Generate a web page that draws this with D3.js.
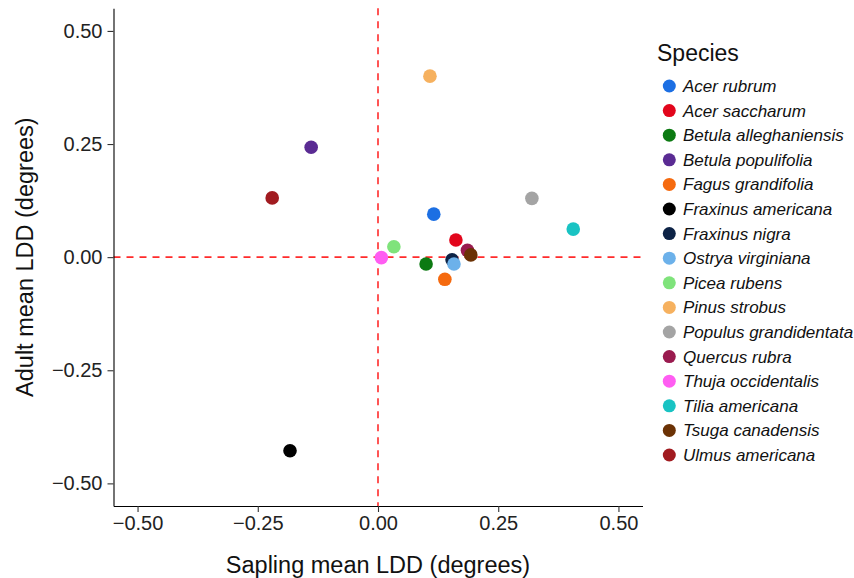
<!DOCTYPE html>
<html>
<head>
<meta charset="utf-8">
<script src="https://cdn.jsdelivr.net/npm/d3@7"></script>
<style>
  body { margin: 0; background: #fff; }
  text { font-family: "Liberation Sans", Arial, sans-serif; }
</style>
</head>
<body>
<div id="chart"></div>
<script>
const species = [
    'Acer rubrum', 'Acer saccharum', 'Betula alleghaniensis', 'Betula populifolia',
    'Fagus grandifolia', 'Fraxinus americana', 'Fraxinus nigra', 'Ostrya virginiana',
    'Picea rubens', 'Pinus strobus', 'Populus grandidentata', 'Quercus rubra',
    'Thuja occidentalis', 'Tilia americana', 'Tsuga canadensis', 'Ulmus americana'
]
const saplingLDD = [0.116, 0.162, 0.100, -0.139, 0.139, -0.183, 0.154, 0.158,
    0.033, 0.108, 0.320, 0.186, 0.007, 0.406, 0.193, -0.220]
const adultLDD = [0.095, 0.038, -0.015, 0.243, -0.049, -0.428, -0.006, -0.015,
    0.023, 0.400, 0.130, 0.015, -0.001, 0.062, 0.005, 0.131]
const speciesColors = ['#1c6fe3', '#e2061c', '#0c7a12', '#5a2b93', '#f56a0f', '#000000',
    '#0d2346', '#6cb1ea', '#7fe37b', '#f6b15f', '#a4a4a4', '#9a1b4f',
    '#ff5df2', '#19c3c3', '#6b3205', '#a11b20']
const ticks = [-0.5, -0.25, 0, 0.25, 0.5]

const width = 854
const height = 578
const plot = { left: 113.5, right: 642.5, top: 8.3, bottom: 506 }

const rows = species.map((s, i) => ({ species: s, x: saplingLDD[i], y: adultLDD[i], color: speciesColors[i] }))

const x = d3.scaleLinear().domain([-0.55, 0.55]).range([plot.left, plot.right])
const y = d3.scaleLinear().domain([-0.55, 0.55]).range([plot.bottom, plot.top])
const colors = d3.scaleOrdinal().domain(species).range(speciesColors)
const fmt = d3.format('.2f')

const svg = d3.select('#chart').append('svg')
    .attr('width', width)
    .attr('height', height)

// reference lines at zero
svg.append('line')
    .attr('x1', x(0)).attr('x2', x(0))
    .attr('y1', plot.top).attr('y2', plot.bottom)
    .attr('stroke', '#ff2b2b').attr('stroke-width', 1.6)
    .attr('stroke-dasharray', '7,6')
svg.append('line')
    .attr('x1', plot.left).attr('x2', plot.right)
    .attr('y1', y(0)).attr('y2', y(0))
    .attr('stroke', '#ff2b2b').attr('stroke-width', 1.6)
    .attr('stroke-dasharray', '7,6')

// axes
const xAxis = d3.axisBottom(x).tickValues(ticks).tickFormat(fmt).tickSize(6).tickSizeOuter(0).tickPadding(4)
const yAxis = d3.axisLeft(y).tickValues(ticks).tickFormat(fmt).tickSize(6).tickSizeOuter(0).tickPadding(5)

const styleAxis = g => {
    g.select('.domain').attr('stroke', '#000').attr('stroke-width', 1.1)
    g.selectAll('.tick line').attr('stroke', '#333').attr('stroke-width', 1.1)
    g.selectAll('.tick text').attr('fill', '#222').style('font-size', '20px')
        .style('font-family', '"Liberation Sans", Arial, sans-serif')
}

svg.append('g')
    .attr('transform', `translate(0, ${plot.bottom})`)
    .call(xAxis)
    .call(styleAxis)

svg.append('g')
    .attr('transform', `translate(${plot.left}, 0)`)
    .call(yAxis)
    .call(styleAxis)

// axis titles
svg.append('text')
    .attr('x', (plot.left + plot.right) / 2)
    .attr('y', 573)
    .attr('text-anchor', 'middle')
    .attr('fill', '#111')
    .style('font-size', '23.5px')
    .text('Sapling mean LDD (degrees)')

svg.append('text')
    .attr('transform', `translate(33, ${(plot.top + plot.bottom) / 2}) rotate(-90)`)
    .attr('text-anchor', 'middle')
    .attr('fill', '#111')
    .style('font-size', '23.5px')
    .text('Adult mean LDD (degrees)')

// points
svg.append('g')
    .selectAll('circle')
    .data(rows)
    .join('circle')
    .attr('cx', d => x(d.x))
    .attr('cy', d => y(d.y))
    .attr('r', 6.8)
    .attr('fill', d => colors(d.species))

// legend
const legendG = svg.append('g').attr('transform', 'translate(657, 0)')
legendG.append('text')
    .attr('x', 0)
    .attr('y', 61)
    .attr('fill', '#111')
    .style('font-size', '23px')
    .text('Species')

const item = legendG.selectAll('g.item')
    .data(species)
    .join('g')
    .attr('class', 'item')
    .attr('transform', (d, i) => `translate(0, ${86 + i * 24.6})`)

item.append('circle')
    .attr('cx', 12.3)
    .attr('cy', 0)
    .attr('r', 6.5)
    .attr('fill', d => colors(d))

item.append('text')
    .attr('x', 26)
    .attr('y', 6)
    .attr('fill', '#111')
    .style('font-size', '17px')
    .style('font-style', 'italic')
    .text(d => d)
</script>
</body>
</html>
